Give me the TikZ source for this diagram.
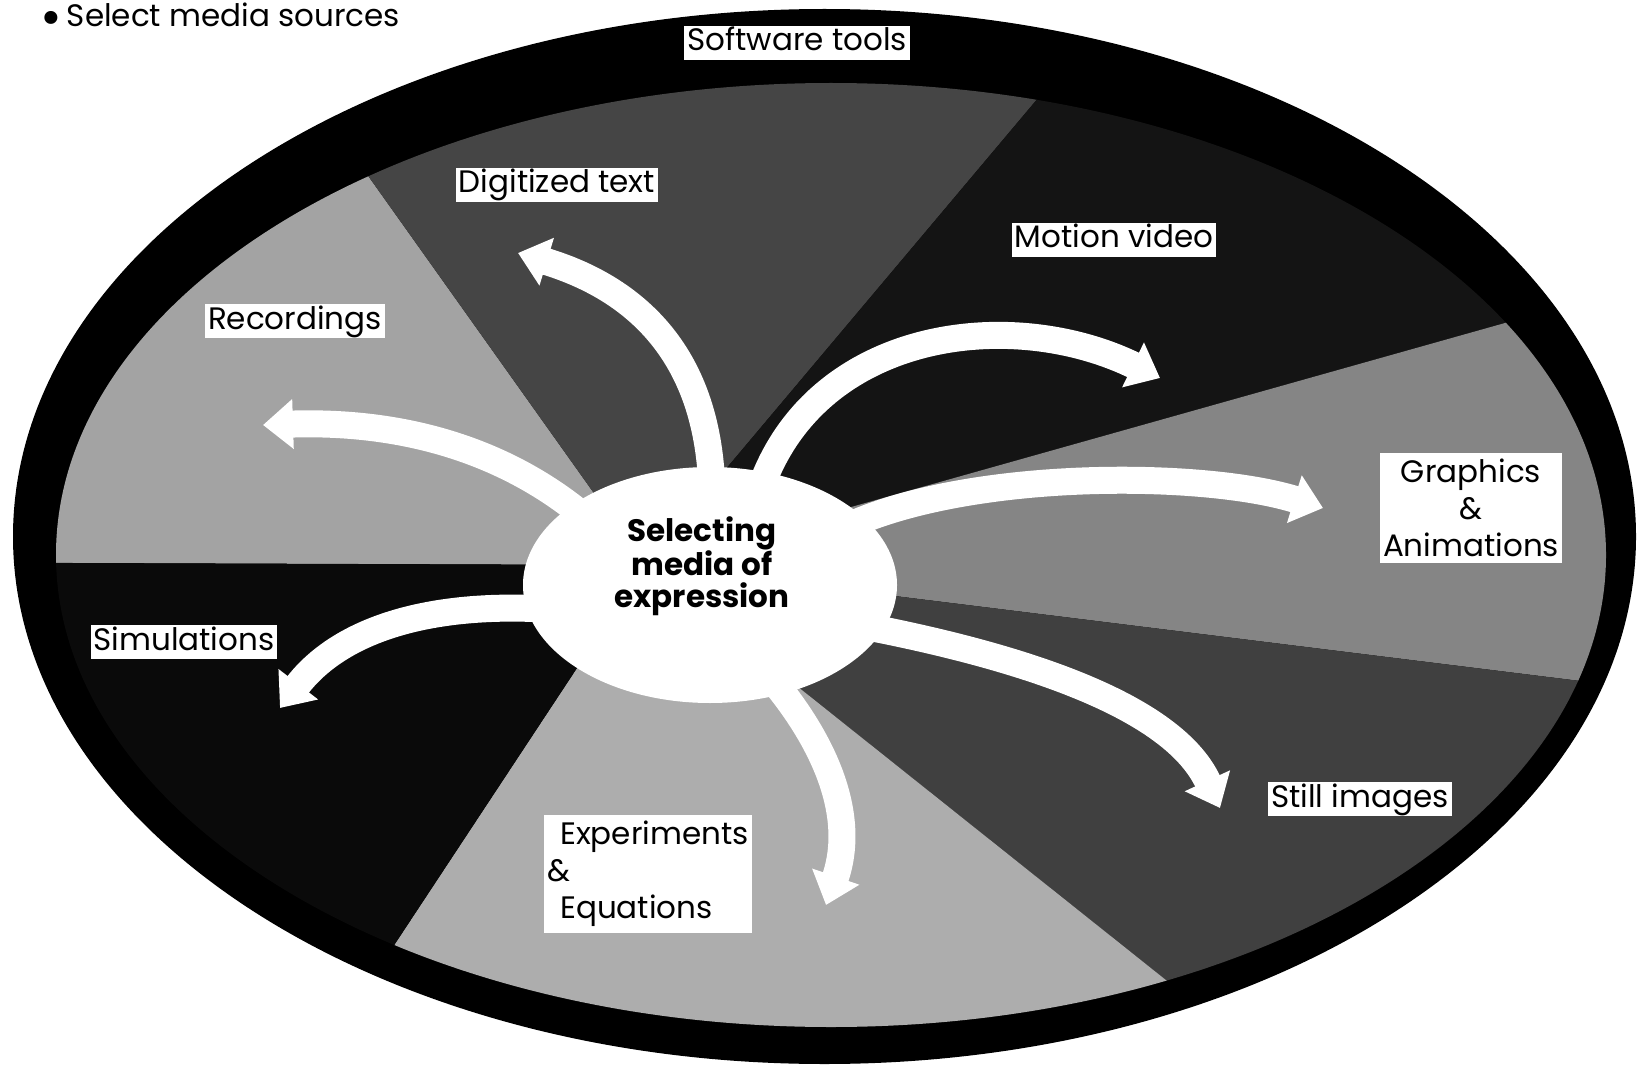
\documentclass[tikz,border=0pt]{standalone}
\usepackage{fontspec}
\setmainfont{Poppins}
\usetikzlibrary{arrows.meta,shapes.geometric}

\definecolor{recgray}{gray}{0.64}
\definecolor{diggray}{gray}{0.27}
\definecolor{motgray}{gray}{0.08}
\definecolor{gragray}{gray}{0.52}
\definecolor{stigray}{gray}{0.25}
\definecolor{expgray}{gray}{0.68}
\definecolor{simgray}{gray}{0.04}

\begin{document}
\begin{tikzpicture}[x=1pt, y=-1pt,
  lbl/.style={fill=white, inner xsep=3pt, inner ysep=1pt, text height=24pt,
              text depth=8pt, font=\fontsize{31}{37}\selectfont},
  lblm/.style={fill=white, inner xsep=3pt, inner ysep=6pt,
               font=\fontsize{31}{37}\selectfont},
  flow/.style={draw=white, line width=27pt, -{Triangle[length=30pt, width=48pt]}},
  hub/.style={ellipse, fill=white, minimum width=374pt, minimum height=236pt, inner sep=0pt},
  hubtext/.style={align=center, font=\fontsize{31}{32}\selectfont\bfseries},
]
\useasboundingbox (0,0) rectangle (1638,1067);

% black frame
\fill[black] (824.5,536.5) ellipse [x radius=811.5pt, y radius=527.5pt];

% media sectors radiating from the hub
\begin{scope}
  \clip (831,555) ellipse [x radius=775pt, y radius=472pt];
  \fill[recgray] (645,565) -- (-3355,551) -- (-1675,-2695) -- cycle;
  \fill[diggray] (645,565) -- (-1675,-2695) -- (3221,-2495) -- cycle;
  \fill[motgray] (645,565) -- (3221,-2495) -- (4497,-519) -- cycle;
  \fill[gragray] (645,565) -- (4497,-519) -- (4613,1057) -- cycle;
  \fill[stigray] (645,565) -- (4613,1057) -- (3773,3057) -- cycle;
  \fill[expgray] (645,565) -- (3773,3057) -- (-1559,3905) -- cycle;
  \fill[simgray] (645,565) -- (-1559,3905) -- (-3355,551) -- cycle;
\end{scope}

% central hub
\node[hub] (hub) at (710,585) {};

% arrow tips
\coordinate (tDig) at (518,253);
\coordinate (tMot) at (1160,378);
\coordinate (tGra) at (1323,508);
\coordinate (tSti) at (1220,808);
\coordinate (tExp) at (826,905);
\coordinate (tSim) at (280,708);
\coordinate (tRec) at (263,425);

% white arrows
\draw[flow] (hub.center) -- (712,500) .. controls (712,360) and (640,290) .. (tDig);
\draw[flow] (hub.center) -- (760,490) .. controls (815,330) and (1010,305) .. (tMot);
\draw[flow] (hub.center) -- (840,530) .. controls (960,470) and (1200,470) .. (tGra);
\draw[flow] (hub.center) -- (830,620) .. controls (1000,650) and (1170,700) .. (tSti);
\draw[flow] (hub.center) -- (745,650) .. controls (805,710) and (862,800) .. (tExp);
\draw[flow] (hub.center) -- (560,610) .. controls (430,600) and (340,630) .. (tSim);
\draw[flow] (hub.center) -- (610,540) .. controls (530,460) and (420,420) .. (tRec);

\node[hubtext] (hubtext) at (702,566) {Selecting\\media of\\expression};

% labels
\node[lbl] (soft) at (797,43) {Software tools};
\node[lbl] (dig) at (557,185) {Digitized text};
\node[lbl] (mot) at (1114,240) {Motion video};
\node[lbl] (rec) at (295,321) {Recordings};
\node[lblm, align=center] (gra) at (1471,508) {Graphics\\\&\\Animations};
\node[lbl] (sim) at (184,642) {Simulations};
\node[lblm, align=left] (exp) at (648,874) {\hspace*{13pt}Experiments\\\&\\\hspace*{13pt}Equations};
\node[lbl] (sti) at (1360,799) {Still images};

% heading
\node[anchor=base west, font=\fontsize{31}{37}\selectfont, inner sep=0pt] (title) at (40,27)
  {\raisebox{-8.5pt}{\scalebox{1.7}{\textbullet}}\hspace{5pt}Select media sources};
\end{tikzpicture}
\end{document}
